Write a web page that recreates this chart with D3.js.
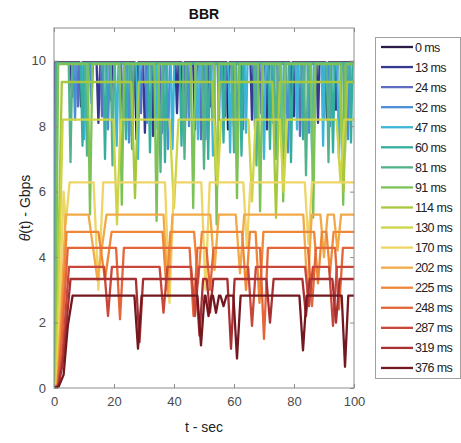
<!DOCTYPE html>
<html lang="en">
<head>
<meta charset="UTF-8">
<title>BBR</title>
<style>
  body { margin: 0; background: #fff; }
  svg text { font-family: "Liberation Sans", Arial, sans-serif; }
</style>
</head>
<body>
<svg id="chart" width="461" height="443"></svg>
<script src="https://cdnjs.cloudflare.com/ajax/libs/d3/7.9.0/d3.min.js"></script>
<script>
// legend entries (propagation delay)
const delays = ["0 ms", "13 ms", "24 ms", "32 ms", "47 ms", "60 ms", "81 ms", "91 ms", "114 ms",
  "130 ms", "170 ms", "202 ms", "225 ms", "248 ms", "287 ms", "319 ms", "376 ms"];

const colors = ["#2b1b47", "#35388f", "#5e6cc0", "#4b8ed8", "#3db5d9", "#35ae9f", "#52b38a", "#7cc257",
  "#a6c83c", "#cdd445", "#eed566", "#f2aa48", "#ee8838", "#e46538", "#c9463a", "#a93032", "#741820"];

// steady throughput level of each flow (Gbps)
const levels = [9.95, 9.92, 9.92, 9.92, 9.92, 9.92, 9.92, 9.9, 9.35, 8.2, 6.28, 5.3, 4.77, 4.28, 3.7, 3.33, 2.82];

// start-up ramp of each flow: [t, Gbps]
const ramps = [
  [[0, 0], [0.4, 9.95]],
  [[0, 0], [0.5, 9.92]],
  [[0, 0], [0.6, 9.92]],
  [[0, 0], [0.7, 9.92]],
  [[0, 0], [0.8, 9.92]],
  [[0, 0], [0.9, 9.92]],
  [[0, 0], [1.1, 9.92]],
  [[0, 0], [0.4, 0.2], [1.4, 9.9]],
  [[0, 0], [0.6, 0.2], [2.6, 9.35]],
  [[0, 0], [0.8, 0.2], [2.9, 8.2]],
  [[0, 0], [1, 0.1], [3.2, 6.0], [3.9, 5.0], [5.2, 6.28]],
  [[0, 0], [1.1, 0.1], [2.2, 2.0], [3.9, 5.3]],
  [[0, 0], [1.2, 0.1], [2.4, 1.8], [4.2, 4.77]],
  [[0, 0], [1.3, 0.1], [2.6, 1.5], [4.6, 4.28]],
  [[0, 0], [1.4, 0.05], [2.8, 1.0], [5.0, 3.7]],
  [[0, 0], [1.5, 0.05], [3.0, 0.8], [5.5, 3.33]],
  [[0, 0], [1.6, 0.05], [3.2, 0.4], [4.6, 1.9], [6.2, 2.82]]
];

// throughput dips of each flow: [t, bottom Gbps, half width s]
const dips = [
  [[9, 8.6, 0.5], [27.5, 7.6, 0.6], [43, 8.3, 0.5], [58, 7.9, 0.5], [79, 8.5, 0.5], [91, 8.2, 0.5]],
  [[6, 8.9, 0.5], [14.8, 8.1, 0.6], [19, 8.8, 0.5], [26, 7.7, 0.6], [30.3, 7.8, 0.6], [33, 7.7, 0.5], [41, 8.4, 0.5],
   [47, 7.9, 0.6], [52, 8.6, 0.5], [60, 8.0, 0.5], [66, 8.2, 0.5], [71, 7.9, 0.6], [80, 8.3, 0.5], [88, 8.1, 0.5], [94, 8.5, 0.5]],
  [[8, 8.6, 0.5], [16, 8.3, 0.5], [23, 8.0, 0.6], [29, 8.4, 0.5], [36, 7.8, 0.6], [44, 8.2, 0.5], [49, 7.6, 0.6],
   [57, 8.3, 0.5], [63, 7.9, 0.5], [69, 8.4, 0.5], [75, 8.0, 0.6], [82, 7.7, 0.6], [90, 8.2, 0.5], [97, 7.9, 0.5]],
  [[7, 8.2, 0.5], [12.5, 8.7, 0.5], [18, 7.9, 0.6], [25, 7.5, 0.6], [31, 8.1, 0.5], [38, 7.3, 0.6], [45, 8.0, 0.5],
   [50.5, 7.6, 0.6], [55, 8.2, 0.5], [61, 7.4, 0.6], [67, 7.9, 0.5], [73, 8.1, 0.5], [78, 7.2, 0.6], [85, 7.8, 0.5],
   [92, 8.0, 0.5], [98, 7.6, 0.5]],
  [[10, 7.6, 0.6], [20.9, 7.4, 0.6], [28, 7.0, 0.6], [34.5, 7.9, 0.5], [39.5, 7.3, 0.6], [48, 7.6, 0.6], [53, 7.1, 0.6],
   [58.7, 7.2, 0.6], [64, 7.8, 0.5], [70, 7.0, 0.6], [76, 7.5, 0.6], [81, 7.9, 0.5], [86, 7.2, 0.6], [89.7, 7.4, 0.5], [95, 7.0, 0.6]],
  [[9.5, 7.4, 0.6], [17, 7.0, 0.6], [24, 7.6, 0.6], [32, 7.2, 0.6], [37, 6.9, 0.6], [42.5, 7.4, 0.6], [51.4, 7.0, 0.6],
   [56.5, 7.5, 0.6], [62.5, 7.1, 0.6], [72, 7.3, 0.6], [79, 6.9, 0.6], [83, 7.6, 0.6], [93, 7.2, 0.6], [99, 7.5, 0.5]],
  [[5.5, 6.9, 0.6], [11, 7.1, 0.6], [19.5, 6.8, 0.6], [26, 7.3, 0.6], [35.5, 6.6, 0.7], [43.5, 7.0, 0.6], [50, 6.7, 0.7],
   [60, 7.2, 0.6], [67.5, 6.8, 0.6], [74, 7.0, 0.6], [84, 6.5, 0.7], [91.5, 6.9, 0.6], [97, 7.2, 0.6]],
  [[12, 5.3, 0.8], [22.6, 5.6, 0.8], [34.2, 5.1, 0.8], [46.4, 5.5, 0.8], [54.2, 5.0, 0.8], [61, 5.8, 0.8],
   [68.7, 5.4, 0.8], [76.4, 5.7, 0.8], [86.4, 5.2, 0.8], [96.4, 5.6, 0.8]],
  [[27, 5.8, 1.2], [54, 6.5, 1.2], [74, 5.2, 1.2], [96.5, 6.0, 1.2]],
  [[21, 5.0, 1.2], [40, 5.5, 1.5], [54.5, 6.2, 1.2], [66, 5.7, 1.2], [76.5, 6.0, 1.2], [95.5, 6.3, 1.3]],
  [[14.8, 3.0, 1.6], [38.5, 2.6, 1.5], [50.5, 3.0, 1.4], [64.3, 4.3, 1.2], [84.8, 4.4, 1.2]],
  [[14.5, 3.3, 3.0], [38, 2.8, 1.5], [53.5, 3.6, 1.4], [62, 3.5, 1.4], [84.5, 2.9, 1.4], [90, 4.0, 1.2], [94.5, 4.2, 1.2]],
  [[17, 3.3, 2.2], [37.5, 3.0, 1.3], [48, 3.2, 1.3], [64, 3.0, 1.3], [68.5, 2.6, 1.3], [88, 3.2, 1.3], [92, 3.5, 1.2]],
  [[22, 2.1, 1.3], [46.5, 2.2, 1.3], [52, 3.0, 1.2], [70, 1.5, 1.3], [86, 2.5, 1.3], [95, 2.4, 1.3]],
  [[18, 2.2, 1.3], [36.5, 2.3, 1.3], [47, 2.2, 1.3], [66, 1.9, 1.3], [85, 2.5, 1.3], [93, 1.9, 1.3]],
  [[28.5, 1.4, 1.2], [48.5, 1.6, 1.2], [52, 2.3, 1.1], [59, 1.2, 1.2], [72, 2.0, 1.2], [84, 2.2, 1.2], [94, 2.0, 1.2]],
  [[28, 1.2, 1.2], [49, 1.3, 1.2], [51.5, 2.2, 1.0], [54, 2.3, 1.0], [56.5, 2.5, 1.0], [61, 0.9, 1.2], [83, 1.15, 1.2], [97, 0.65, 1.1]]
];

const xTicks = [0, 20, 40, 60, 80, 100];
const yTicks = [0, 2, 4, 6, 8, 10];

const svg = d3.select("#chart");
const mLeft = 54, mRight = 354, mTop = 28, mBottom = 388;

const x = d3.scaleLinear().domain([0, 100]).range([mLeft, mRight]);
const y = d3.scaleLinear().domain([0, 11]).range([mBottom, mTop]);

// build the polyline of each flow from its ramp, level and dips
const series = delays.map((name, i) => {
  const pts = ramps[i].slice();
  dips[i].forEach(([t, v, w]) => {
    pts.push([t - w, levels[i]], [t, v], [t + w, levels[i]]);
  });
  pts.push([100, levels[i]]);
  return { name, color: colors[i], pts };
});

svg.append("defs").append("clipPath").attr("id", "clip")
  .append("rect").attr("x", mLeft).attr("y", mTop).attr("width", mRight - mLeft).attr("height", mBottom - mTop);

const line = d3.line().x(d => x(d[0])).y(d => y(d[1]));

svg.append("g").attr("clip-path", "url(#clip)")
  .selectAll("path").data(series).enter().append("path")
  .attr("d", d => line(d.pts))
  .attr("fill", "none")
  .attr("stroke", d => d.color)
  .attr("stroke-width", 2.3)
  .attr("stroke-linejoin", "round");

// axes box with inward ticks on all sides
const axisColor = "#8c8c8c";
svg.append("rect").attr("x", mLeft).attr("y", mTop).attr("width", mRight - mLeft).attr("height", mBottom - mTop)
  .attr("fill", "none").attr("stroke", axisColor).attr("stroke-width", 1);

svg.append("g").attr("transform", `translate(0,${mBottom})`)
  .call(d3.axisBottom(x).tickValues(xTicks).tickSizeInner(-4).tickSizeOuter(0).tickPadding(9));
svg.append("g").attr("transform", `translate(${mLeft},0)`)
  .call(d3.axisLeft(y).tickValues(yTicks).tickSizeInner(-4).tickSizeOuter(0).tickPadding(8));
svg.append("g").attr("transform", `translate(0,${mTop})`)
  .call(d3.axisTop(x).tickValues(xTicks).tickSizeInner(-4).tickSizeOuter(0).tickFormat(""));
svg.append("g").attr("transform", `translate(${mRight},0)`)
  .call(d3.axisRight(y).tickValues(yTicks).tickSizeInner(-4).tickSizeOuter(0).tickFormat(""));

svg.selectAll(".domain").remove();
svg.selectAll(".tick line").attr("stroke", axisColor);
svg.selectAll(".tick text").attr("fill", "#4a4a4a").style("font-size", "13px")
  .style("font-family", "'Liberation Sans', Arial, sans-serif");

// title and labels
svg.append("text").attr("x", (mLeft + mRight) / 2).attr("y", 19).attr("text-anchor", "middle")
  .style("font-size", "14px").style("font-weight", "bold").attr("fill", "#111").text("BBR");

svg.append("text").attr("x", (mLeft + mRight) / 2).attr("y", 432).attr("text-anchor", "middle")
  .style("font-size", "14px").attr("fill", "#222").text("t - sec");

const yl = svg.append("text").attr("transform", `translate(30,${(mTop + mBottom) / 2}) rotate(-90)`)
  .attr("text-anchor", "middle").style("font-size", "14px").attr("fill", "#222");
yl.append("tspan").style("font-style", "italic").text("θ");
yl.append("tspan").text("(t) - Gbps");

// legend
const lg = svg.append("g");
lg.append("rect").attr("x", 375.5).attr("y", 37.5).attr("width", 85).attr("height", 341)
  .attr("fill", "#fff").attr("stroke", "#a0a0a0");
const item = lg.selectAll(".item").data(series).enter().append("g")
  .attr("transform", (d, i) => `translate(0,${47 + i * 20.06})`);
item.append("line").attr("x1", 381).attr("x2", 413).attr("y1", 0).attr("y2", 0)
  .attr("stroke", d => d.color).attr("stroke-width", 2.3);
item.append("text").attr("x", 415).attr("y", 4.5).style("font-size", "12.5px").attr("fill", "#222")
  .attr("textLength", d => d.name.length * 6.3).text(d => d.name);
</script>
</body>
</html>
